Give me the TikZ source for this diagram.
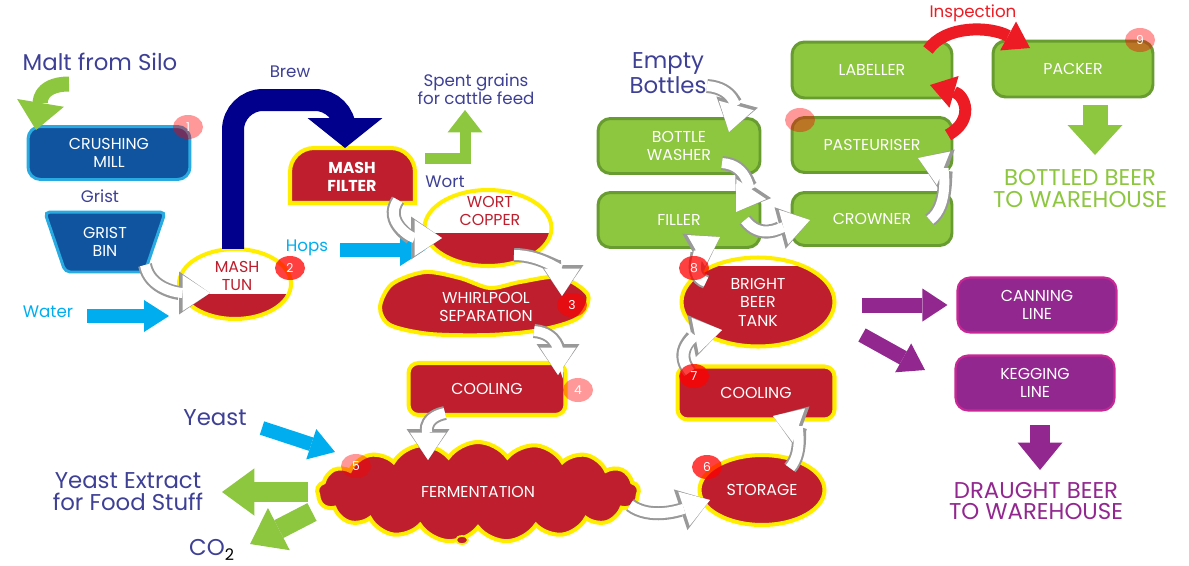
\documentclass[tikz,border=0pt]{standalone}
\usepackage{fontspec}
\setmainfont{Poppins}
\usepackage{tikz}
\usetikzlibrary{arrows.meta}
\usetikzlibrary{shapes.geometric}
\usetikzlibrary{shapes.symbols}
\usetikzlibrary{calc}
\usetikzlibrary{positioning}

\definecolor{navytext}{RGB}{62,64,149}
\definecolor{skyblue}{RGB}{0,174,239}
\definecolor{leafgreen}{RGB}{141,198,63}
\definecolor{leafdark}{RGB}{104,156,48}
\definecolor{millblue}{RGB}{16,84,160}
\definecolor{milledge}{RGB}{41,171,226}
\definecolor{beerred}{RGB}{190,30,45}
\definecolor{rimyellow}{RGB}{255,238,0}
\definecolor{plum}{RGB}{146,39,143}
\definecolor{plumedge}{RGB}{200,40,150}
\definecolor{brewnavy}{RGB}{0,0,140}
\definecolor{alarmred}{RGB}{237,28,36}

\newcommand{\boxfont}{\fontsize{9}{10.5}\selectfont}
\newcommand{\notefont}{\fontsize{9.5}{10.5}\selectfont}
\newcommand{\headfont}{\fontsize{13}{12.5}\selectfont}

\tikzset{
	fatarrow/.style n args={3}{line width=#1, -{Triangle[length=#2, width=#3, line width=0pt]}},
	hollowarrow/.style={preaction={draw=black!40, line width=0.28cm, -{Triangle[length=0.62cm, width=0.86cm, line width=0pt]}},
		draw=white, line width=0.2cm, -{Triangle[length=0.55cm, width=0.72cm, line width=0pt]}},
	bluebox/.style={draw=milledge, fill=millblue, line width=1.7pt, rounded corners=0.25cm, text=white, align=center, font=\boxfont},
	redbox/.style={draw=rimyellow, fill=beerred, line width=2.3pt, rounded corners=0.2cm, text=white, align=center, font=\boxfont},
	greenbox/.style={draw=leafdark, fill=leafgreen, line width=1.7pt, rounded corners=0.25cm, text=white, align=center, font=\boxfont, minimum width=3.2cm, minimum height=1.1cm},
	plumbox/.style={draw=plumedge, fill=plum, line width=1.2pt, rounded corners=0.25cm, text=white, align=center, font=\boxfont, minimum width=3.18cm, minimum height=1.1cm},
	tank/.style={ellipse, draw=rimyellow, fill=beerred, line width=2.3pt, text=white, align=center, font=\boxfont},
	halftank/.style={tank, fill=white, path picture={\fill [beerred] (path picture bounding box.south west) rectangle ($(path picture bounding box.north east)!#1!(path picture bounding box.south east)$);}},
	badge/.style={ellipse, fill=red, fill opacity=#1, text opacity=1, text=white, minimum width=0.6cm, minimum height=0.48cm, inner sep=0pt, font=\fontsize{7}{8}\selectfont},
	badge/.default=0.4,
	note/.style={text=navytext, align=center, font=\notefont},
}

\begin{document}
\begin{tikzpicture}[x=0.02cm, y=-0.02cm]
	\useasboundingbox (0,0) rectangle (1189,565);
	% Milling
	\node [note, font=\headfont] (malt) at (100,62) {Malt from Silo};
	\node [bluebox, minimum width=3.24cm, minimum height=1.06cm] (mill) at (109,153) {CRUSHING\\MILL};
	\node [note] (grist) at (100,196) {Grist};
	\node [bluebox, trapezium, shape border rotate=180, trapezium angle=71, trapezium stretches=true, minimum width=2.42cm, minimum height=1.2cm, rounded corners=0.1cm] (gbin) at (105,242) {GRIST\\BIN};
	\node [note, text=skyblue] (water) at (48,312) {Water};
	% Mashing
	\node [halftank=0.64, minimum width=2.24cm, minimum height=1.4cm] (tun) at (235,284) {};
	\node [text=beerred, align=center, font=\boxfont] (tunlbl) at (237,276) {MASH\\TUN};
	\node [note] (brew) at (290,72) {Brew};
	\path [draw=rimyellow, fill=beerred, line width=2.3pt] (290,203) -- (290,172) arc [start angle=180, end angle=270, radius=24] -- (391,148) arc [start angle=270, end angle=360, radius=24] -- (415,203) -- cycle;
	\node [text=white, align=center, font=\bfseries\boxfont] (filter) at (352,177) {MASH\\FILTER};
	\node [note] (spent) at (476,89) {Spent grains\\for cattle feed};
	\node [note] (wort) at (445,182) {Wort};
	% Boiling and whirlpool
	\node [halftank=0.56, minimum width=2.54cm, minimum height=1.52cm] (copper) at (488,228) {};
	\node [text=beerred, align=center, font=\boxfont] (copperlbl) at (490,211) {WORT\\COPPER};
	\node [note, text=skyblue] (hops) at (307,248) {Hops};
	\path [draw=rimyellow, fill=beerred, line width=2.3pt] plot [smooth cycle] coordinates {(380,307) (392,284) (425,272) (460,278) (490,288) (520,282) (560,277) (588,295) (578,318) (540,330) (490,335) (430,334) (390,325)};
	\node [text=white, align=center, font=\boxfont] (whirl) at (486,307) {WHIRLPOOL\\SEPARATION};
	\node [redbox, minimum width=3.14cm, minimum height=1.04cm] (cool1) at (487,389) {COOLING};
	% Fermentation
	\node [note, font=\headfont] (yeast) at (215,418) {Yeast};
	\node [cloud, cloud puffs=17, cloud puff arc=110, aspect=3.2, draw=rimyellow, fill=beerred, line width=2.3pt, text=white, font=\boxfont, minimum width=6.44cm, minimum height=2cm] (ferm) at (478,492) {FERMENTATION};
	\draw [rimyellow, fill=beerred, line width=1pt] (462,540) ellipse [x radius=6, y radius=4];
	\node [note, font=\headfont] (yeastx) at (128,492) {Yeast Extract\\for Food Stuff};
	\node [note, font=\headfont] (co2) at (212,550) {CO{\color{black}\textsubscript{2}}};
	% Conditioning
	\node [tank, minimum width=2.5cm, minimum height=1.4cm] (storage) at (762,490) {STORAGE};
	\node [redbox, minimum width=3.14cm, minimum height=1.06cm] (cool2) at (756,393) {COOLING};
	\node [halftank=0.09, minimum width=3.06cm, minimum height=1.78cm] (bbt) at (758,302) {BRIGHT\\BEER\\TANK};
	% Draught line
	\node [plumbox] (canning) at (1037,305) {CANNING\\LINE};
	\node [plumbox] (kegging) at (1035,383) {KEGGING\\LINE};
	\node [text=plum, align=center, font=\headfont] (draught) at (1036,501) {DRAUGHT BEER\\TO WAREHOUSE};
	% Bottling line
	\node [note, font=\headfont] (empty) at (668,73) {Empty\\Bottles};
	\node [greenbox, minimum width=3.24cm] (washer) at (679,146) {BOTTLE\\WASHER};
	\node [greenbox, minimum width=3.24cm] (filler) at (679,220) {FILLER};
	\node [greenbox, minimum height=1.12cm] (labeller) at (872,70) {LABELLER};
	\node [greenbox] (past) at (872,145) {PASTEURISER};
	\node [greenbox, minimum height=1.06cm] (crowner) at (872,219) {CROWNER};
	\node [greenbox, minimum height=1.12cm] (packer) at (1073,69) {PACKER};
	\node [note, text=alarmred] (inspection) at (973,13) {Inspection};
	\node [text=leafgreen, align=center, font=\headfont] (bottled) at (1080,189) {BOTTLED BEER\\TO WAREHOUSE};
	% Inputs and outputs
	\draw [leafgreen, fatarrow={0.3cm}{0.55cm}{0.95cm}] ($(malt)+(-31,22)$) .. controls +(-32,0) and +(4,-24) .. ($(mill)+(-73,-23)$);
	\draw [skyblue, fatarrow={0.28cm}{0.5cm}{0.64cm}] ($(water.east)+(8,4)$) -- ($(tun)+(-66,32)$);
	\draw [brewnavy, fatarrow={0.44cm}{0.6cm}{1.5cm}, rounded corners=0.6cm] ($(tun.north)+(-2,2)$) |- ($(filter)+(-7,-77)$) -- ($(filter)+(-7,-29)$);
	\draw [leafgreen, fatarrow={0.22cm}{0.45cm}{0.7cm}] ($(filter)+(73,-19)$) -| ($(spent)+(-11,21)$);
	\draw [skyblue, fatarrow={0.28cm}{0.5cm}{0.64cm}] ($(hops.east)+(6,2)$) -- ($(copper)+(-63,22)$);
	\draw [skyblue, fatarrow={0.28cm}{0.5cm}{0.64cm}] ($(yeast)+(47,10)$) -- ($(ferm)+(-143,-40)$);
	\draw [leafgreen, fatarrow={0.4cm}{0.65cm}{0.95cm}] ($(ferm)+(-170,0)$) -- ($(yeastx)+(94,0)$);
	\draw [leafgreen, fatarrow={0.4cm}{0.65cm}{0.95cm}] ($(ferm)+(-166,20)$) -- ($(co2)+(38,-6)$);
	\draw [plum, fatarrow={0.3cm}{0.5cm}{0.66cm}] ($(bbt)+(104,3)$) -- ($(canning.west)+(-9,0)$);
	\draw [plum, fatarrow={0.3cm}{0.5cm}{0.66cm}] ($(bbt)+(104,33)$) -- ($(kegging)+(-110,-13)$);
	\draw [plum, fatarrow={0.4cm}{0.55cm}{0.9cm}] ($(kegging)+(5,42)$) -- ($(draught)+(4,-31)$);
	\draw [leafgreen, fatarrow={0.5cm}{0.6cm}{1.1cm}] ($(packer)+(22,36)$) -- ($(bottled)+(15,-34)$);
	% Process flow
	\draw [hollowarrow] ($(gbin)+(40,23)$) .. controls +(5,25) and +(-30,0) .. ($(tun)+(-25,9)$);
	\draw [hollowarrow] ($(filter)+(46,23)$) .. controls +(-15,22) and +(-30,0) .. ($(copper)+(-46,10)$);
	\draw [hollowarrow] ($(copper)+(26,27)$) .. controls +(30,0) and +(0,-22) .. ($(whirl)+(76,-11)$);
	\draw [hollowarrow] ($(whirl)+(48,24)$) .. controls +(25,2) and +(0,-20) .. ($(cool1)+(71,-14)$);
	\draw [hollowarrow] ($(cool1)+(-42,24)$) .. controls +(-25,5) and +(0,-22) .. ($(ferm)+(-50,-32)$);
	\draw [hollowarrow] ($(ferm)+(152,13)$) .. controls +(20,15) and +(-30,10) .. ($(storage)+(-52,10)$);
	\draw [hollowarrow] ($(storage)+(28,-22)$) .. controls +(15,-18) and +(22,8) .. ($(cool2)+(17,23)$);
	\draw [hollowarrow] ($(cool2)+(-66,-21)$) .. controls +(-18,-22) and +(-25,5) .. ($(bbt)+(-36,28)$);
	\draw [hollowarrow] ($(bbt)+(-52,-20)$) .. controls +(-22,-8) and +(-14,8) .. ($(filler)+(41,17)$);
	\draw [hollowarrow] ($(empty)+(39,13)$) .. controls +(28,2) and +(6,-22) .. ($(washer)+(50,-14)$);
	\draw [hollowarrow] ($(washer)+(43,17)$) .. controls +(28,2) and +(12,-18) .. ($(filler)+(57,-8)$);
	\draw [hollowarrow] ($(filler)+(66,0)$) .. controls +(15,20) and +(-30,8) .. ($(crowner)+(-62,1)$);
	\draw [hollowarrow] ($(crowner)+(58,1)$) .. controls +(20,-15) and +(25,10) .. ($(past)+(46,13)$);
	% Inspection
	\draw [alarmred, fatarrow={0.24cm}{0.5cm}{0.66cm}] ($(past)+(76,-10)$) .. controls +(27,-15) and +(35,10) .. ($(labeller)+(58,15)$);
	\draw [alarmred, fatarrow={0.24cm}{0.5cm}{0.66cm}] ($(labeller)+(56,-20)$) .. controls +(17,-25) and +(-40,-22) .. ($(packer)+(-43,-21)$);
	% Step numbers
	\node [badge] (b1) at (188,127) {1};
	\node [badge=0.75] (b2) at (290,268) {2};
	\node [badge=0.6] (b3) at (572,305) {3};
	\node [badge] (b4) at (578,390) {4};
	\node [badge] (b5) at (356,466) {5};
	\node [badge=0.75] (b6) at (707,467) {6};
	\node [badge=0.75] (b7) at (694,376) {7};
	\node [badge=0.75] (b8) at (694,268) {8};
	\node [badge] (bp) at (800,120) {};
	\node [badge] (b9) at (1140,40) {9};
\end{tikzpicture}
\end{document}
